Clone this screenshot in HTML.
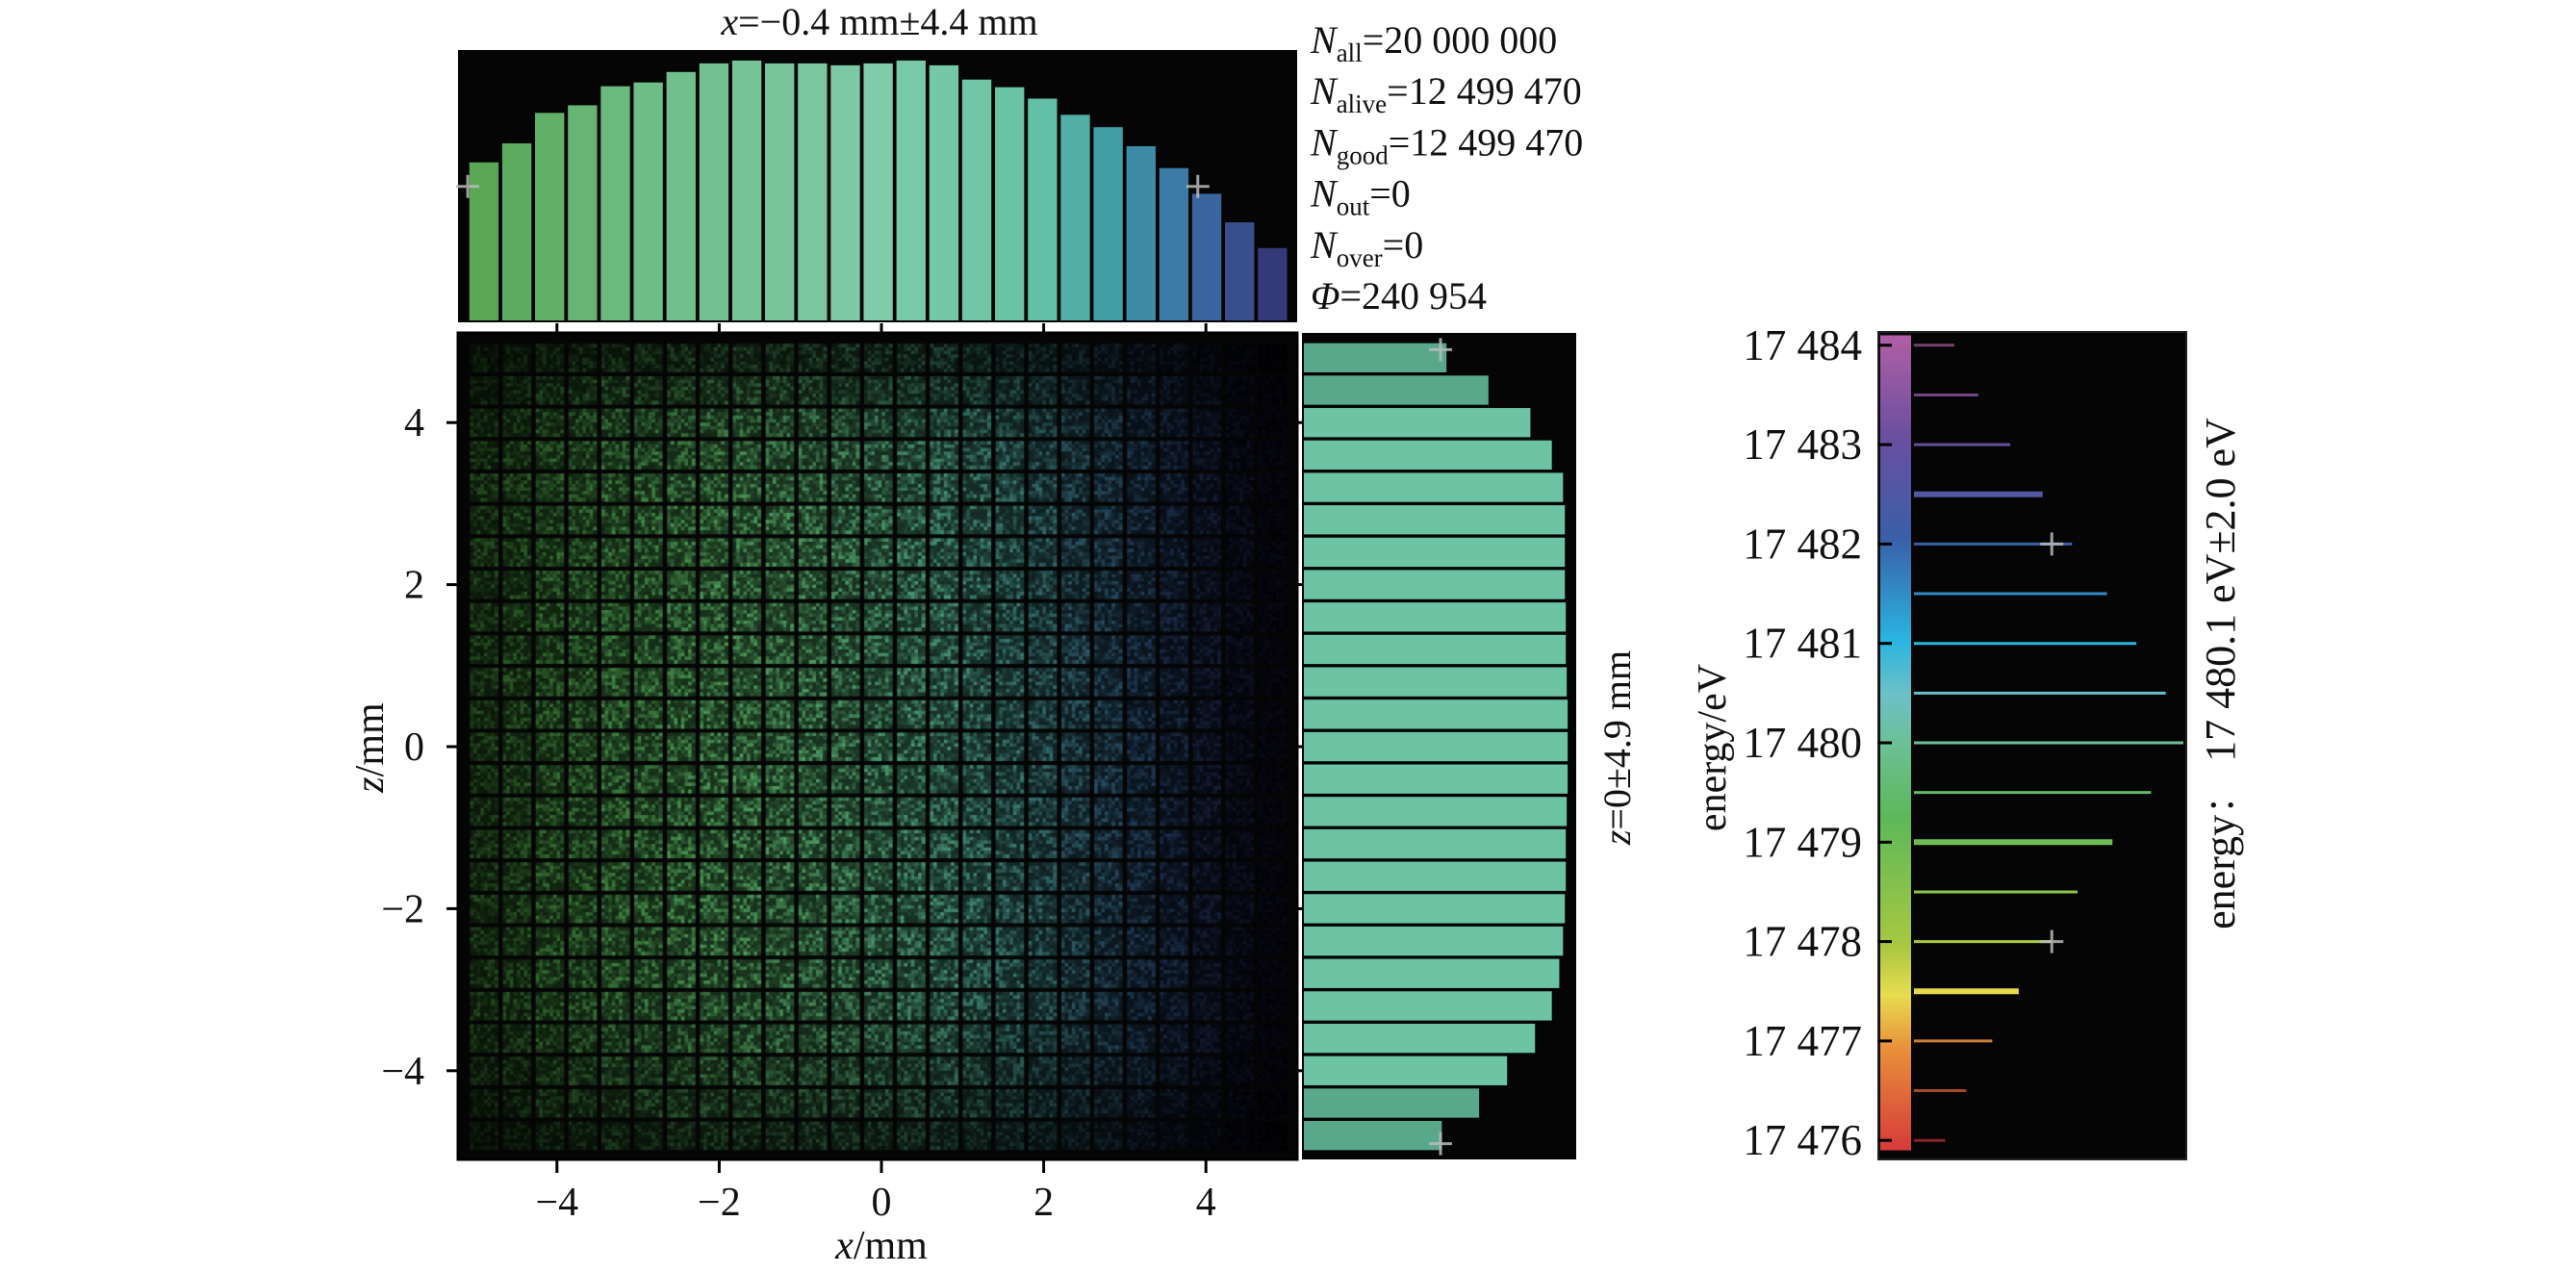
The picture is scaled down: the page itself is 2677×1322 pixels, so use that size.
<!DOCTYPE html>
<html><head><meta charset="utf-8">
<style>
html,body{margin:0;padding:0;background:#fff;}
#wrap{position:relative;width:2677px;height:1322px;overflow:hidden;font-family:"Liberation Serif",serif;}
svg,canvas{position:absolute;left:0;top:0;}
</style></head>
<body>
<div id="wrap">
<canvas id="heat" width="2677" height="1322"></canvas>
<svg id="chart" width="2677" height="1322" xmlns="http://www.w3.org/2000/svg"></svg>
</div>
<script>
// ---- data ----
const xCenters = [-4.9,-4.495,-4.09,-3.685,-3.28,-2.875,-2.47,-2.065,-1.66,-1.255,-0.85,-0.445,-0.04,0.365,0.77,1.175,1.58,1.985,2.39,2.795,3.2,3.605,4.01,4.415,4.82];
const xCounts = [166,186,218,226,246,250,261,270,273,270,270,268,270,273,268,253,245,233,216,203,183,160,133,103,76];
const zCenters = [4.8,4.4,4.0,3.6,3.2,2.8,2.4,2.0,1.6,1.2,0.8,0.4,0.0,-0.4,-0.8,-1.2,-1.6,-2.0,-2.4,-2.8,-3.2,-3.6,-4.0,-4.4,-4.8];
const zCounts = [155,200,245,268,280,282,282,282,283,283,284,285,285,285,284,283,283,282,280,276,268,250,220,190,150];
const energies = [17484,17483.5,17483,17482.5,17482,17481.5,17481,17480.5,17480,17479.5,17479,17478.5,17478,17477.5,17477,17476.5,17476];
const energyCounts = [110,175,262,350,430,525,605,685,733,645,540,445,375,285,213,142,85];
const xTicks = [-4,-2,0,2,4];
const zTicks = [4,2,0,-2,-4];
const eTicks = [17484,17483,17482,17481,17480,17479,17478,17477,17476];
const eTickLabels = ["17 484","17 483","17 482","17 481","17 480","17 479","17 478","17 477","17 476"];
const stats = [["all","=20 000 000"],["alive","=12 499 470"],["good","=12 499 470"],["out","=0"],["over","=0"]];

// ---- scales ----
const X0=916, PXMM=84.3, Z0=776, PZMM=84.2;
const xS = v => X0 + v*PXMM;
const zS = v => Z0 - v*PZMM;
const mainBox = {l:476,r:1348,t:346,b:1205};
const topBox = {l:476,r:1348,t:52,b:335};
const rh = {l:1353,r:1638,t:346,b:1205};
const en = {l:1952,r:2272,t:345,b:1205,cb:1986};
const hTop = v => topBox.b - 2 - v*(topBox.b-topBox.t-6)/280;
const hRight = v => rh.l + v*(rh.r-rh.l-4)/290;
const eY = v => 772 - (v-17480)*103.3;
const eX = v => en.cb+3 + v*(2269-en.cb-3)/733;

function lerp(a,b,t){return a+(b-a)*t;}
function grad(stops,t){t=Math.max(0,Math.min(1,t));for(let i=1;i<stops.length;i++){if(t<=stops[i][0]){const a=stops[i-1],b=stops[i];const u=(t-a[0])/(b[0]-a[0]||1);return [0,1,2].map(k=>Math.round(lerp(a[1][k],b[1][k],u)));}}return stops[stops.length-1][1];}
const xColStops=[[0,[90,168,85]],[0.2,[109,189,134]],[0.5,[127,203,170]],[0.7,[100,195,165]],[0.8,[62,154,166]],[0.9,[58,110,166]],[1,[52,57,122]]];
const heatStops=[[0,[80,170,70]],[0.4,[90,180,110]],[0.65,[80,170,150]],[0.85,[60,110,170]],[1,[60,60,150]]];
const cbStops=[[0,[214,58,58]],[0.125,[232,144,58]],[0.19,[232,220,80]],[0.25,[168,200,64]],[0.41,[92,184,90]],[0.5,[108,192,150]],[0.56,[108,192,200]],[0.625,[42,181,224]],[0.75,[58,95,168]],[0.875,[106,79,160]],[1,[176,95,165]]];
const rgb=c=>`rgb(${c[0]},${c[1]},${c[2]})`;

// ---- heatmap (canvas) ----
const cv=document.getElementById('heat').getContext('2d');
cv.fillStyle='#050505';cv.fillRect(mainBox.l,mainBox.t,mainBox.r-mainBox.l,mainBox.b-mainBox.t);
function hash(a,b){let h=(a*374761393+b*668265263)^0x5bd1e995;h=Math.imul(h^(h>>>13),1274126177);return ((h^(h>>>16))>>>0)/4294967295;}
const cell=0.345*PXMM, sub=8, sp=cell/sub;
xCenters.forEach((xc,i)=>{
  const base=grad(heatStops,i/(xCenters.length-1));
  zCenters.forEach((zc,j)=>{
    const inten=Math.pow((xCounts[i]/273)*(zCounts[j]/285),1.3);
    const x0=xS(xc)-cell/2, y0=zS(zc)-cell/2;
    for(let a=0;a<sub;a++)for(let b=0;b<sub;b++){
      const n=hash(i*sub+a,j*sub+b); // texture only
      const k=(0.28+0.6*n*n)*inten;
      cv.fillStyle=`rgb(${Math.round(base[0]*k)},${Math.round(base[1]*k)},${Math.round(base[2]*k)})`;
      cv.fillRect(x0+a*sp,y0+b*sp,sp+0.5,sp+0.5);
    }
  });
});

// ---- svg ----
const svg=document.getElementById('chart');
const NS='http://www.w3.org/2000/svg';
function mk(tag,attrs,parent){const e=document.createElementNS(NS,tag);for(const k in attrs)e.setAttribute(k,attrs[k]);(parent||svg).appendChild(e);return e;}
function txt(s,attrs,parent){const e=mk('text',attrs,parent);e.textContent=s;return e;}

let e=mk('rect',{x:mainBox.l,y:mainBox.t,width:mainBox.r-mainBox.l,height:mainBox.b-mainBox.t,fill:'none',stroke:'#000','stroke-width':3});



// top histogram
e=mk('rect',{x:topBox.l,y:topBox.t,width:topBox.r-topBox.l,height:topBox.b-topBox.t,fill:'#050505'});


const bw=0.36*PXMM;
xCenters.forEach((xc,i)=>{
  const c=grad(xColStops,i/(xCenters.length-1));
  const b=mk('rect',{x:xS(xc)-bw/2,y:hTop(xCounts[i]),width:bw,height:topBox.b-2-hTop(xCounts[i]),fill:rgb(c)});
  
  
});
xTicks.forEach(t=>{
  const l=mk('line',{x1:xS(t),x2:xS(t),y1:topBox.b+1,y2:mainBox.t,stroke:'#000','stroke-width':3});
  
  
  const l2=mk('line',{x1:xS(t),x2:xS(t),y1:mainBox.b,y2:mainBox.b+14,stroke:'#000','stroke-width':3});
  
  
  const lb=txt(t<0?'\u2212'+Math.abs(t):String(t),{x:xS(t),y:1263,'font-size':42,'text-anchor':'middle',fill:'#111'});
  
  
});
zTicks.forEach(t=>{
  const l=mk('line',{x1:mainBox.l-12,x2:mainBox.l,y1:zS(t),y2:zS(t),stroke:'#000','stroke-width':3});
  
  
  const l2=mk('line',{x1:mainBox.r,x2:rh.l,y1:zS(t),y2:zS(t),stroke:'#000','stroke-width':3});
  
  
  const lb=txt(t<0?'\u2212'+Math.abs(t):String(t),{x:441,y:zS(t)+14,'font-size':42,'text-anchor':'end',fill:'#111'});
  
  
});
e=txt('',{x:916,y:1308,'font-size':42,'text-anchor':'middle',fill:'#111'});
e.innerHTML='<tspan font-style="italic">x</tspan>/mm';


e=txt('',{x:0,y:0,'font-size':42,'text-anchor':'middle',fill:'#111',transform:'translate(398,777) rotate(-90)'});
e.innerHTML='<tspan font-style="italic">z</tspan>/mm';


e=txt('',{x:914,y:36,'font-size':40,'text-anchor':'middle',fill:'#111'});
e.innerHTML='<tspan font-style="italic">x</tspan>=\u22120.4 mm\u00b14.4 mm';



const sg=mk('g',{});


stats.forEach((s,i)=>{
  const t=txt('',{x:1362,y:55+i*53.2,'font-size':40,fill:'#111'},sg);
  t.innerHTML=`<tspan font-style="italic">N</tspan><tspan font-size="27" dy="9">${s[0]}</tspan><tspan dy="-9">${s[1]}</tspan>`;
  
  
});
e=txt('',{x:1362,y:321,'font-size':40,fill:'#111'},sg);
e.innerHTML='<tspan font-style="italic">\u03a6</tspan>=240 954';



// right histogram
e=mk('rect',{x:rh.l,y:rh.t,width:rh.r-rh.l,height:rh.b-rh.t,fill:'#050505'});


const bh=0.36*PZMM;
zCenters.forEach((zc,j)=>{
  const b=mk('rect',{x:rh.l+2,y:zS(zc)-bh/2,width:hRight(zCounts[j])-rh.l-2,height:bh,fill:j<2||j>22?'#5aa88c':'#6cc4a4'});
  
  
});
e=txt('',{x:0,y:0,'font-size':40,'text-anchor':'middle',fill:'#111',transform:'translate(1694,777) rotate(-90)'});
e.innerHTML='<tspan font-style="italic">z</tspan>=0\u00b14.9 mm';



function plus(x,y,name){const g=mk('g',{stroke:'#bbb','stroke-width':3,opacity:0.85});mk('line',{x1:x-12,x2:x+12,y1:y,y2:y},g);mk('line',{x1:x,x2:x,y1:y-12,y2:y+12},g);}
plus(xS(-5.1),hTop(166)+25,'x-sigma-marker-left');
plus(xS(3.9),hTop(166)+25,'x-sigma-marker-right');
plus(1497,zS(4.9),'z-sigma-marker-top');
plus(1497,zS(-4.9),'z-sigma-marker-bottom');

// energy plot
e=mk('rect',{x:en.l,y:en.t,width:en.r-en.l,height:en.b-en.t,fill:'#050505',stroke:'#222','stroke-width':2});


const defs=mk('defs',{});
const lg=mk('linearGradient',{id:'cb',x1:0,y1:1,x2:0,y2:0},defs);
cbStops.forEach(s=>mk('stop',{offset:s[0],'stop-color':rgb(s[1])},lg));
e=mk('rect',{x:en.l+2,y:eY(17484.1),width:en.cb-en.l-2,height:eY(17475.9)-eY(17484.1),fill:'url(#cb)'});


energies.forEach((v,i)=>{
  const c=grad(cbStops,(v-17476)/8);
  const dim=Math.min(1,0.45+energyCounts[i]/500);
  const thick=(v===17482.5||v===17479||v===17477.5);
  const l=mk('line',{x1:eX(0),x2:eX(energyCounts[i]),y1:eY(v),y2:eY(v),stroke:rgb(c.map(k=>Math.round(k*dim))),'stroke-width':thick?6:3});
  
  
});
eTicks.forEach((t,i)=>{
  const l=mk('line',{x1:en.l,x2:en.l+14,y1:eY(t),y2:eY(t),stroke:'#000','stroke-width':3});
  
  
  const lb=txt(eTickLabels[i],{x:1935,y:eY(t)+15,'font-size':45,'text-anchor':'end',fill:'#111'});
  
  
});
plus(eX(375),eY(17482),'energy-sigma-marker-top');
plus(eX(375),eY(17478),'energy-sigma-marker-bottom');
e=txt('energy/eV',{x:0,y:0,'font-size':42,'text-anchor':'middle',fill:'#111',transform:'translate(1793,777) rotate(-90)'});


e=txt('energy\uff1a 17 480.1 eV\u00b12.0 eV',{x:0,y:0,'font-size':44,'text-anchor':'middle',fill:'#111',transform:'translate(2322,700) rotate(-90)'});
e.style.fontFamily='"Liberation Serif","Noto Serif CJK SC",serif';


</script>
</body></html>
